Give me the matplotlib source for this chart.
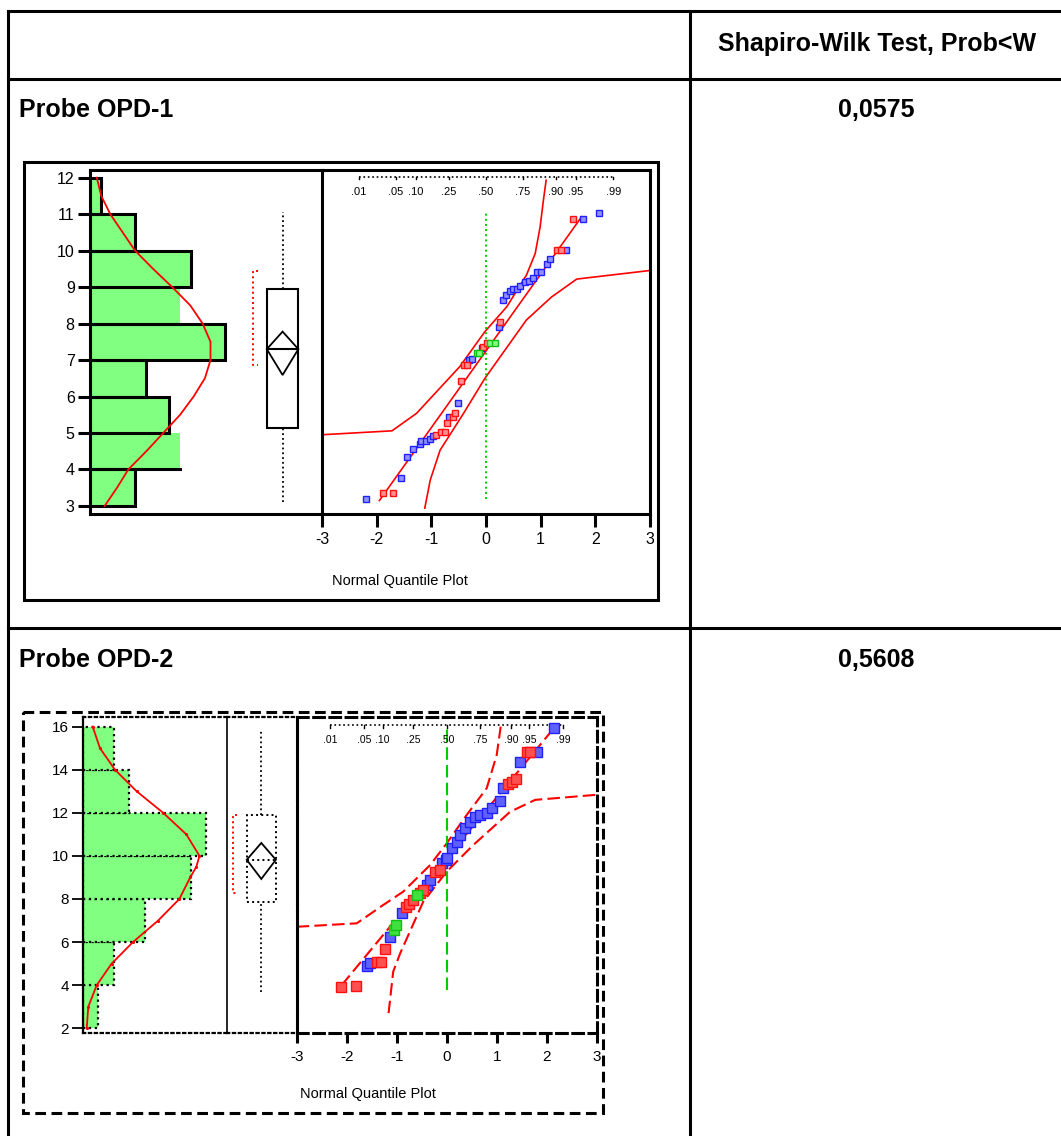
import matplotlib.pyplot as plt
from matplotlib.patches import Rectangle, Polygon

plt.rcParams['font.family'] = ['Liberation Sans', 'DejaVu Sans']
plt.rcParams['axes.unicode_minus'] = False

W, H = 1061, 1136
GREEN = '#80ff80'

# ---------------- data ----------------
# Probe OPD-1 : histogram (bin start, count) and density curve
bins1 = [3, 4, 5, 6, 7, 8, 9, 10, 11]
counts1 = [4, 8, 7, 5, 12, 8, 9, 4, 1]
outlined1 = [True, False, True, True, True, False, True, True, True]
dens1_val = [3, 3.5, 4, 4.5, 5, 5.5, 6, 6.5, 7, 7.5, 8, 8.5, 9, 9.5, 10, 10.5, 11, 11.5, 12]
dens1_cnt = [1.3, 2.4, 3.4, 5.0, 6.5, 8.0, 9.2, 10.2, 10.7, 10.7, 10.0, 8.9, 7.3, 5.6, 4.0, 2.9, 1.8, 1.0, 0.6]
box1 = {"q1": 5.15, "q3": 8.95, "lo": 3.1, "hi": 11.05, "mean": 7.3,
        "ci_lo": 6.59, "ci_hi": 7.78, "sh_lo": 6.86, "sh_hi": 9.44}

# Probe OPD-1 : normal quantile plot
blue1_z = [-2.19, -1.55, -1.44, -1.33, -1.21, -1.18, -1.10, -1.02, -0.97, -0.67, -0.52, -0.32, -0.26,
           -0.08, 0.24, 0.32, 0.37, 0.43, 0.49, 0.56, 0.62, 0.71, 0.79, 0.86, 0.93, 1.00, 1.11, 1.17,
           1.46, 1.78, 2.07]
blue1_v = [3.18, 3.76, 4.35, 4.55, 4.70, 4.78, 4.78, 4.83, 4.92, 5.43, 5.81, 7.00, 7.03,
           7.32, 7.91, 8.64, 8.78, 8.90, 8.94, 8.94, 9.03, 9.15, 9.17, 9.24, 9.42, 9.42, 9.63, 9.76,
           10.03, 10.86, 11.02]
red1_z = [-1.88, -1.71, -0.91, -0.83, -0.75, -0.71, -0.61, -0.57, -0.45, -0.40, -0.35, -0.05, 0.01,
          0.26, 1.30, 1.37, 1.60]
red1_v = [3.35, 3.35, 4.95, 5.04, 5.04, 5.27, 5.43, 5.56, 6.43, 6.86, 6.86, 7.36, 7.47,
          8.05, 10.03, 10.03, 10.86]
green1_z = [-0.17, -0.12, 0.07, 0.16]
green1_v = [7.18, 7.20, 7.47, 7.47]
fit1_z = [-1.95, 1.75]
fit1_v = [3.15, 10.93]
upper1_z = [-3.03, -1.72, -1.27, -0.48, -0.02, 0.38, 0.74, 0.90, 0.99, 1.05, 1.10]
upper1_v = [4.95, 5.06, 5.54, 6.82, 7.78, 8.46, 9.33, 9.92, 10.65, 11.38, 11.93]
lower1_z = [2.97, 1.66, 1.20, 0.74, 0.26, -0.02, -0.41, -0.84, -1.02, -1.12]
lower1_v = [9.45, 9.22, 8.73, 8.10, 7.09, 6.50, 5.54, 4.53, 3.71, 2.94]

# Probe OPD-2 : histogram and density curve
bins2 = [2, 4, 6, 8, 10, 12, 14]
counts2 = [2, 4, 8, 14, 16, 6, 4]
dens2_val = [2, 3, 4, 5, 6, 7, 8, 9, 9.5, 10, 11, 12, 13, 14, 15, 16]
dens2_cnt = [0.52, 0.72, 1.81, 3.74, 6.5, 9.76, 12.5, 13.9, 14.7, 15.1, 13.4, 10.4, 6.97, 4.17, 2.23, 1.29]
box2 = {"q1": 7.88, "q3": 11.9, "lo": 3.7, "hi": 15.9, "mean": 9.82,
        "ci_lo": 8.93, "ci_hi": 10.6, "sh_lo": 8.27, "sh_hi": 11.9}

# Probe OPD-2 : normal quantile plot
blue2_z = [-1.60, -1.53, -1.13, -0.90, -0.40, -0.33, -0.10, -0.01, 0.0, 0.1, 0.2, 0.27, 0.37, 0.47,
           0.57, 0.67, 0.8, 0.9, 1.07, 1.13, 1.47, 1.81, 2.15]
blue2_v = [4.89, 5.04, 6.22, 7.34, 8.65, 8.88, 9.66, 9.81, 9.89, 10.35, 10.66, 10.97, 11.28, 11.59,
           11.82, 11.90, 11.98, 12.21, 12.55, 13.14, 14.37, 14.81, 15.92]
red2_z = [-2.12, -1.81, -1.39, -1.32, -1.23, -0.81, -0.75, -0.67, -0.53, -0.47, -0.23, -0.13,
          1.23, 1.30, 1.39, 1.61, 1.67]
red2_v = [3.93, 3.96, 5.09, 5.09, 5.67, 7.61, 7.77, 7.95, 8.26, 8.42, 9.27, 9.35,
          13.32, 13.44, 13.57, 14.81, 14.81]
green2_z = [-1.05, -1.01, -0.59]
green2_v = [6.56, 6.79, 8.19]
fit2_z = [-2.1, 2.17]
fit2_v = [4.0, 16.0]
upper2_z = [-3.0, -1.8, -1.27, -0.87, -0.33, 0.0, 0.4, 0.8, 1.0, 1.08]
upper2_v = [6.71, 6.87, 7.72, 8.34, 9.58, 10.58, 11.9, 13.14, 14.68, 16.0]
lower2_z = [2.97, 1.77, 1.27, 0.53, 0.0, -0.47, -0.93, -1.07, -1.17]
lower2_v = [12.83, 12.6, 12.05, 10.5, 9.27, 7.87, 5.48, 4.63, 2.54]

# probability scale on top of the quantile plots
prob_labels = ['.01', '.05', '.10', '.25', '.50', '.75', '.90', '.95', '.99']
prob_z = [-2.326, -1.645, -1.282, -0.674, 0, 0.674, 1.282, 1.645, 2.326]

shapiro = ['0,0575', '0,5608']
probes = ['Probe OPD-1', 'Probe OPD-2']


def px_rect(x0, y0, x1, y1):
    """pixel box (top-left origin) -> figure fraction rect"""
    return [x0 / W, 1 - y1 / H, (x1 - x0) / W, (y1 - y0) / H]


def draw_points(ax, zs, vs, edge, face, ms):
    ax.plot(zs, vs, 's', ms=ms, mec=edge, mfc=face, mew=1.0, zorder=4)


def prob_scale(ax, level, tick, label_level, fs):
    """dotted probability axis drawn inside the quantile plot"""
    ax.plot([prob_z[0], prob_z[-1]], [level, level], ':', color='black', lw=1.2)
    for z, lab in zip(prob_z, prob_labels):
        ax.plot([z, z], [level, level - tick], color='black', lw=1.0)
        ax.text(z, label_level, lab, ha='center', va='center', fontsize=fs)


def box_plot(ax, cx, hw, b, bx, cap, lw, box_ls, whisk_ls):
    ax.add_patch(Rectangle((cx - hw, b["q1"]), 2 * hw, b["q3"] - b["q1"], fill=False,
                           lw=lw, ls=box_ls, edgecolor='black'))
    ax.plot([cx, cx], [b["lo"], b["q1"]], color='black', ls=whisk_ls, lw=1.3)
    ax.plot([cx, cx], [b["q3"], b["hi"]], color='black', ls=whisk_ls, lw=1.3)
    ax.plot([cx - hw, cx + hw], [b["mean"], b["mean"]], color='black', ls=box_ls, lw=lw)
    ax.add_patch(Polygon([(cx, b["ci_hi"]), (cx + hw, b["mean"]), (cx, b["ci_lo"]),
                          (cx - hw, b["mean"])], closed=True, fill=False, lw=1.3,
                         edgecolor='black'))
    ax.plot([bx + cap, bx, bx, bx + cap], [b["sh_hi"], b["sh_hi"], b["sh_lo"], b["sh_lo"]],
            color='red', ls=':', lw=1.4)


fig = plt.figure(figsize=(W / 100, H / 100), dpi=100)

# background axes in pixel units for the table and the frames
base = fig.add_axes([0, 0, 1, 1])
base.set_xlim(0, W)
base.set_ylim(H, 0)
base.axis('off')

TW = 2.2
for y in [11, 79, 628]:
    base.plot([8, W + 5], [y, y], color='black', lw=TW, solid_capstyle='projecting')
for x in [8, 690]:
    base.plot([x, x], [11, H + 5], color='black', lw=TW, solid_capstyle='projecting')

base.text(718, 51, 'Shapiro-Wilk Test, Prob<W', fontsize=18, fontweight='bold')
base.text(19, 117, probes[0], fontsize=18, fontweight='bold')
base.text(876, 117, shapiro[0], fontsize=18, fontweight='bold', ha='center')
base.text(19, 667, probes[1], fontsize=18, fontweight='bold')
base.text(876, 667, shapiro[1], fontsize=18, fontweight='bold', ha='center')

# ---------------- panel 1 ----------------
base.add_patch(Rectangle((24, 162), 634, 438, fill=False, lw=TW, edgecolor='black'))
base.text(400, 581, 'Normal Quantile Plot', fontsize=10.5, ha='center', va='center')

hist1 = fig.add_axes(px_rect(90, 170, 322, 514))
hist1.set_facecolor('none')
hist1.barh(bins1, counts1, height=1, align='edge', color=GREEN, edgecolor='none')
for b, c, o in zip(bins1, counts1, outlined1):
    if o:
        hist1.barh(b, c, height=1, align='edge', fill=False, edgecolor='black', lw=TW)
    else:
        # JMP leaves these bars open, only the bottom edge is drawn
        hist1.plot([0, c], [b, b], color='black', lw=TW)
hist1.plot(dens1_cnt, dens1_val, color='red', lw=1.3)
box_plot(hist1, 17.1, 1.4, box1, 14.5, 0.4, 1.5, '-', ':')
hist1.set_xlim(0, 20.6)
hist1.set_ylim(2.78, 12.21)
hist1.set_xticks([])
hist1.set_yticks(range(3, 13))
hist1.tick_params(axis='y', length=9, width=TW, labelsize=11.5, pad=2)
hist1.spines['right'].set_visible(False)
for s in ['left', 'top', 'bottom']:
    hist1.spines[s].set_linewidth(TW)

q1 = fig.add_axes(px_rect(322, 170, 650, 514), sharey=hist1)
q1.set_facecolor('none')
q1.plot(upper1_z, upper1_v, color='red', lw=1.2)
q1.plot(lower1_z, lower1_v, color='red', lw=1.2)
q1.plot(fit1_z, fit1_v, color='red', lw=1.2)
q1.plot([0, 0], [min(blue1_v), max(blue1_v)], ':', color='#00cc00', lw=1.4)
draw_points(q1, blue1_z, blue1_v, '#2020ff', '#9090ff', 4.2)
draw_points(q1, red1_z, red1_v, '#ff1010', '#ff9090', 4.2)
draw_points(q1, green1_z, green1_v, '#10c010', '#80ff80', 4.2)
prob_scale(q1, 12.03, 0.08, 11.62, 8)
q1.set_xlim(-3, 3)
q1.set_xticks(range(-3, 4))
q1.tick_params(axis='x', length=9, width=TW, labelsize=11.5, pad=4)
q1.tick_params(axis='y', left=False, labelleft=False)
for s in q1.spines.values():
    s.set_linewidth(TW)

# ---------------- panel 2 ----------------
DASH = (0, (3.5, 1.8))
base.add_patch(Rectangle((23, 712), 580, 401, fill=False, lw=TW, ls=DASH, edgecolor='black'))
base.text(368, 1094, 'Normal Quantile Plot', fontsize=10.5, ha='center', va='center')

hist2 = fig.add_axes(px_rect(82.7, 716.7, 227.3, 1033))
hist2.set_facecolor('none')
hist2.barh(bins2, counts2, height=2, align='edge', color=GREEN, edgecolor='black', ls=':', lw=1.6)
hist2.plot(dens2_cnt, dens2_val, color='red', lw=1.3, marker='.', ms=2.5)
hist2.set_xlim(0, 18.7)
hist2.set_ylim(1.78, 16.46)
hist2.set_xticks([])
hist2.set_yticks(range(2, 17, 2))
hist2.tick_params(axis='y', length=8, width=1.3, labelsize=11, pad=2)
hist2.spines['left'].set_linewidth(1.6)
hist2.spines['right'].set_linewidth(1.2)
for s in ['top', 'bottom']:
    hist2.spines[s].set_linewidth(1.6)
    hist2.spines[s].set_linestyle(':')

bx2 = fig.add_axes(px_rect(227.3, 716.7, 296.7, 1033), sharey=hist2)
bx2.set_facecolor('none')
box_plot(bx2, 0.49, 0.21, box2, 0.086, 0.06, 1.4, ':', ':')
bx2.set_xlim(0, 1)
bx2.set_xticks([])
bx2.tick_params(axis='y', left=False, labelleft=False)
for s in ['left', 'right']:
    bx2.spines[s].set_visible(False)
for s in ['top', 'bottom']:
    bx2.spines[s].set_linewidth(1.6)
    bx2.spines[s].set_linestyle(':')

RDASH = (0, (6, 2.5))
q2 = fig.add_axes(px_rect(296.7, 716.7, 596.7, 1033), sharey=hist2)
q2.set_facecolor('none')
q2.plot(upper2_z, upper2_v, color='red', lw=1.5, ls=RDASH)
q2.plot(lower2_z, lower2_v, color='red', lw=1.5, ls=RDASH)
q2.plot(fit2_z, fit2_v, color='red', lw=1.5, ls=RDASH)
q2.plot([0, 0], [min(red2_v) - 0.15, max(blue2_v) + 0.1], color='#00cc00', lw=1.5, ls=RDASH)
draw_points(q2, blue2_z, blue2_v, '#2020ff', '#6060ff', 6.5)
draw_points(q2, red2_z, red2_v, '#ff1010', '#ff5050', 6.5)
draw_points(q2, green2_z, green2_v, '#10c010', '#40e040', 6.5)
prob_scale(q2, 16.07, 0.14, 15.4, 7.5)
q2.set_xlim(-3, 3)
q2.set_xticks(range(-3, 4))
q2.tick_params(axis='x', length=7, width=TW, labelsize=11, pad=5)
q2.tick_params(axis='y', left=False, labelleft=False)
for name, s in q2.spines.items():
    s.set_linewidth(TW)
    s.set_linestyle((0, (1.5, 0.6, 0.4, 0.6)) if name == 'left' else DASH)

fig.savefig('out.png', dpi=100)
